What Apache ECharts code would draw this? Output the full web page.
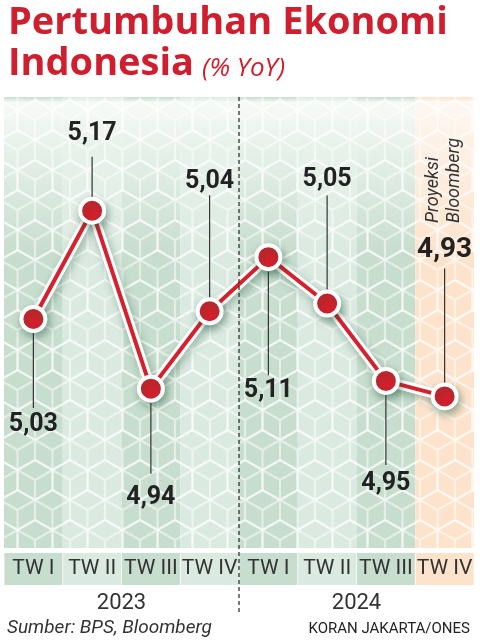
<!DOCTYPE html>
<html lang="id">
<head>
    <meta charset="UTF-8">
    <title>Pertumbuhan Ekonomi Indonesia</title>
    <style>
        html, body { margin: 0; padding: 0; background: #fff; }
        #main { width: 480px; height: 643px; }
    </style>
</head>
<body>
<div id="main"></div>
<script src="https://cdn.jsdelivr.net/npm/echarts@6/dist/echarts.min.js"></script>
<script>
    // data
    const quarters = ['TW I', 'TW II', 'TW III', 'TW IV', 'TW I', 'TW II', 'TW III', 'TW IV'];
    const years = ['2023', '2024'];
    const growth = [5.03, 5.17, 4.94, 5.04, 5.11, 5.05, 4.95, 4.93];

    // label placement (px from the point), not data
    const labelOffset = [106, -77, 109, -130, 134, -124, 103, -146];
    const leaderEnd = [89, -54, 85, -116, 118, -108, 84, -128];

    const red = '#d81f2c';
    const titleRed = '#cf1f2e';
    const dark = '#c7ddce', light = '#dbeae1', orange = '#fde3cc';
    const colColors = [dark, light, dark, light, dark, light, dark, orange];

    const categories = quarters.map((q, i) => years[Math.floor(i / 4)] + ' ' + q);

    // motif kubus putih
    function cubePattern() {
        const w = 35, h = 60, r = h / 3;
        const c = document.createElement('canvas');
        c.width = w; c.height = h;
        const ctx = c.getContext('2d');
        ctx.strokeStyle = 'rgba(255,255,255,0.5)';
        ctx.lineWidth = 2.2;
        const centers = [[0, 0], [w, 0], [0, h], [w, h], [w / 2, h / 2]];
        centers.forEach(([cx, cy]) => {
            const v = [[0, -r], [w / 2, -r / 2], [w / 2, r / 2], [0, r], [-w / 2, r / 2], [-w / 2, -r / 2]];
            ctx.beginPath();
            v.forEach((p, k) => k ? ctx.lineTo(cx + p[0], cy + p[1]) : ctx.moveTo(cx + p[0], cy + p[1]));
            ctx.closePath();
            ctx.moveTo(cx, cy); ctx.lineTo(cx - w / 2, cy - r / 2);
            ctx.moveTo(cx, cy); ctx.lineTo(cx + w / 2, cy - r / 2);
            ctx.moveTo(cx, cy); ctx.lineTo(cx, cy + r);
            ctx.stroke();
        });
        return c;
    }
    const pattern = { image: cubePattern(), repeat: 'repeat' };

    const colFills = colColors.map(col => ({
        type: 'linear', x: 0, y: 0, x2: 0, y2: 1,
        colorStops: [
            { offset: 0, color: col },
            { offset: 0.012, color: col === orange ? '#fef8f2' : '#f6faf7' },
            { offset: 0.1, color: col === orange ? '#fdf1e6' : '#e8f2eb' },
            { offset: 0.35, color: col }
        ]
    }));

    const rich = {};
    colColors.forEach((col, i) => {
        rich['c' + i] = {
            backgroundColor: col, width: 58, height: 32, lineHeight: 32,
            align: 'center', fontSize: 21, color: '#333', fontFamily: 'Roboto'
        };
    });

    const myChart = echarts.init(document.getElementById('main'));

    myChart.setOption({
        animation: false,
        title: [{
            text: '{a|Pertumbuhan Ekonomi}\n{a|Indonesia} {b|(% YoY)}',
            left: 3, top: -2,
            textStyle: {
                rich: {
                    a: { fontFamily: 'Open Sans', fontWeight: 'bold', fontSize: 38, lineHeight: 41, color: titleRed },
                    b: { fontFamily: 'Open Sans', fontStyle: 'italic', fontWeight: 'normal', fontSize: 26, lineHeight: 41, color: titleRed, padding: [9, 0, 0, 3] }
                }
            }
        }, {
            text: 'Sumber: BPS, Bloomberg',
            left: 2, bottom: 0,
            textStyle: { fontFamily: 'Roboto', fontStyle: 'italic', fontWeight: 'normal', fontSize: 19, color: '#333' }
        }, {
            text: 'KORAN JAKARTA/ONES',
            right: 5, bottom: 1,
            textStyle: { fontFamily: 'Roboto', fontWeight: 'normal', fontSize: 15, color: '#222' }
        }],
        grid: { left: 4, right: 6, top: 97, bottom: 95 },
        xAxis: [{
            type: 'category',
            data: categories,
            boundaryGap: true,
            axisLine: { show: false },
            axisTick: { show: false },
            axisLabel: {
                interval: 0, margin: 5,
                formatter: (val, idx) => '{c' + idx + '|' + quarters[idx] + '}',
                rich: rich
            },
            splitArea: { show: true, interval: 0, areaStyle: { color: colFills } }
        }, {
            type: 'category',
            data: years,
            position: 'bottom',
            boundaryGap: true,
            axisLine: { show: false },
            axisTick: { show: false },
            axisLabel: { margin: 44, fontSize: 22, color: '#333', fontFamily: 'Roboto' },
            splitArea: { show: true, areaStyle: { color: [pattern, pattern] } }
        }],
        yAxis: {
            type: 'value', min: 4.734, max: 5.317, show: false,
            splitLine: { show: false }
        },
        series: [{
            // garis penunjuk + angka
            type: 'custom',
            z: 1,
            data: growth.map((v, i) => [i, v]),
            encode: { x: 0, y: 1 },
            renderItem: (params, api) => {
                const i = params.dataIndex;
                const p = api.coord([api.value(0), api.value(1)]);
                return {
                    type: 'group',
                    children: [{
                        type: 'line',
                        shape: { x1: p[0], y1: p[1], x2: p[0], y2: p[1] + leaderEnd[i] },
                        style: { stroke: '#333', lineWidth: 1.2 }
                    }, {
                        type: 'text',
                        x: p[0], y: p[1] + labelOffset[i],
                        style: {
                            text: growth[i].toFixed(2).replace('.', ','),
                            fontFamily: 'Roboto', fontWeight: 'bold',
                            fontSize: i === 7 ? 28 : 25,
                            fill: '#222', align: 'center', verticalAlign: 'middle'
                        }
                    }]
                };
            }
        }, {
            type: 'line',
            z: 2,
            data: growth,
            symbol: 'none',
            silent: true,
            lineStyle: {
                color: '#fff', width: 10,
                shadowColor: 'rgba(20,80,50,0.35)', shadowBlur: 8, shadowOffsetX: 2, shadowOffsetY: 4
            }
        }, {
            type: 'line',
            z: 3,
            data: growth,
            symbol: 'circle',
            symbolSize: 24,
            lineStyle: { color: red, width: 4 },
            itemStyle: {
                color: red, borderColor: '#fff', borderWidth: 4,
                shadowColor: 'rgba(20,80,50,0.4)', shadowBlur: 8, shadowOffsetX: 2, shadowOffsetY: 4
            }
        }]
    });

    // pemisah tahun + keterangan proyeksi
    const gx = i => myChart.convertToPixel({ xAxisIndex: 0 }, i);
    const divX = (gx(3) + gx(4)) / 2;
    myChart.setOption({
        graphic: [{
            type: 'line',
            shape: { x1: divX, y1: 97, x2: divX, y2: 612 },
            style: { stroke: '#222', lineWidth: 1.2, lineDash: [4, 3] },
            z: 50
        }, {
            type: 'text',
            x: gx(7) - 1, y: 223,
            rotation: Math.PI / 2,
            style: {
                text: 'Proyeksi\nBloomberg',
                fontFamily: 'Roboto', fontStyle: 'italic', fontSize: 18, lineHeight: 21,
                fill: '#333', align: 'left', verticalAlign: 'middle'
            },
            z: 50
        }]
    });
</script>
</body>
</html>
